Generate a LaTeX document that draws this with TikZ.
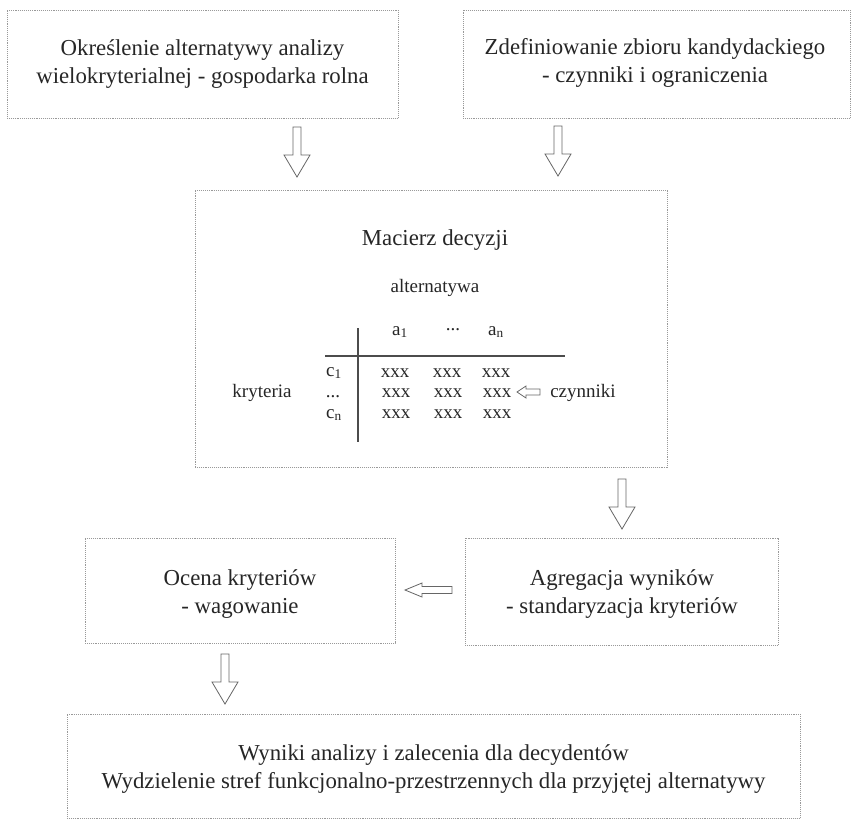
\documentclass[tikz,border=0pt]{standalone}
\usepackage{fontspec}
\setmainfont{Liberation Serif}
\newcommand\dnarrow[2]{\path[arrowline] (#1-4,#2) -- (#1-4,#2+28) -- (#1-13,#2+28) -- (#1,#2+50) -- (#1+13,#2+28) -- (#1+4,#2+28) -- (#1+4,#2) -- cycle;}
\begin{document}
\begin{tikzpicture}[x=1pt,y=-1pt,
  every node/.style={text=black!85},
  boxnode/.style={draw=black!40, densely dotted, line width=0.9pt, fill=white, inner sep=0pt},
  big/.style={font=\fontsize{22.8}{27.5}\selectfont, align=center},
  small/.style={font=\fontsize{19}{22}\selectfont, inner sep=0.5pt},
  rowlab/.style={small, inner sep=0pt, text height=8pt, text depth=0pt},
  arrowline/.style={draw=black!60, line width=0.8pt, fill=white, line join=miter}
]
\useasboundingbox (0,0) rectangle (853,820);
\fill[white] (0,0) rectangle (853,820);

% boxes
\node[boxnode, minimum width=391, minimum height=108] (b1) at (202.5,64) {};
\node[big] (t1) at (202.5,64) {Określenie alternatywy analizy\\wielokryterialnej - gospodarka rolna};

\node[boxnode, minimum width=387, minimum height=108] (b2) at (656.5,64) {};
\node[big] (t2) at (655,63) {Zdefiniowanie zbioru kandydackiego\\- czynniki i ograniczenia};

\node[boxnode, minimum width=472, minimum height=277] (b3) at (431,328.5) {};

\node[boxnode, minimum width=310, minimum height=105] (b4) at (240,590.5) {};
\node[big] (t4) at (240,594) {Ocena kryteriów\\- wagowanie};

\node[boxnode, minimum width=313, minimum height=107] (b5) at (621.5,591.5) {};
\node[big] (t5) at (622,594) {Agregacja wyników\\- standaryzacja kryteriów};

\node[boxnode, minimum width=733, minimum height=104] (b6) at (433.5,766) {};
\node[big] (t6) at (433.5,769) {Wyniki analizy i zalecenia dla decydentów\\Wydzielenie stref funkcjonalno-przestrzennych dla przyjętej alternatywy};

% matrix content
\node[big] (mt) at (435,240) {Macierz decyzji};
\node[small] (alt) at (435,288) {alternatywa};
\node[small] (a1) at (400,332) {a\textsubscript{1}};
\node[small] (ad) at (453,330) {...};
\node[small] (an) at (496,332) {a\textsubscript{n}};
\coordinate (hl) at (325,356);
\coordinate (hr) at (565,356);
\coordinate (vt) at (358,328);
\coordinate (vb) at (358,442);
\draw[black!70, line width=1.1pt] (hl) -- (hr);
\draw[black!70, line width=1.1pt] (vt) -- (vb);
\node[rowlab] (c1) at (334,372) {c\textsubscript{1}};
\node[rowlab] (cd) at (333,393) {...};
\node[rowlab] (cn) at (334,414) {c\textsubscript{n}};
\node[small] (kr) at (262,393) {kryteria};
\foreach \c/\xx in {1/395,2/447,3/496}{
  \node[rowlab] (x1\c) at (\xx,373) {xxx};
  \node[rowlab] (x2\c) at (\xx+1,393) {xxx};
  \node[rowlab] (x3\c) at (\xx+1,414) {xxx};
}
\node[small] (cz) at (583,393) {czynniki};
\path[arrowline] (517,392) -- (526,386) -- (526,389) -- (540,389) -- (540,395) -- (526,395) -- (526,398) -- cycle;

% arrows
\dnarrow{297}{127}
\dnarrow{558}{126}
\dnarrow{622}{479}
\path[arrowline] (405,590) -- (422,583) -- (422,586.5) -- (452,586.5) -- (452,593.5) -- (422,593.5) -- (422,597) -- cycle;
\dnarrow{225}{654}
\end{tikzpicture}
\end{document}
